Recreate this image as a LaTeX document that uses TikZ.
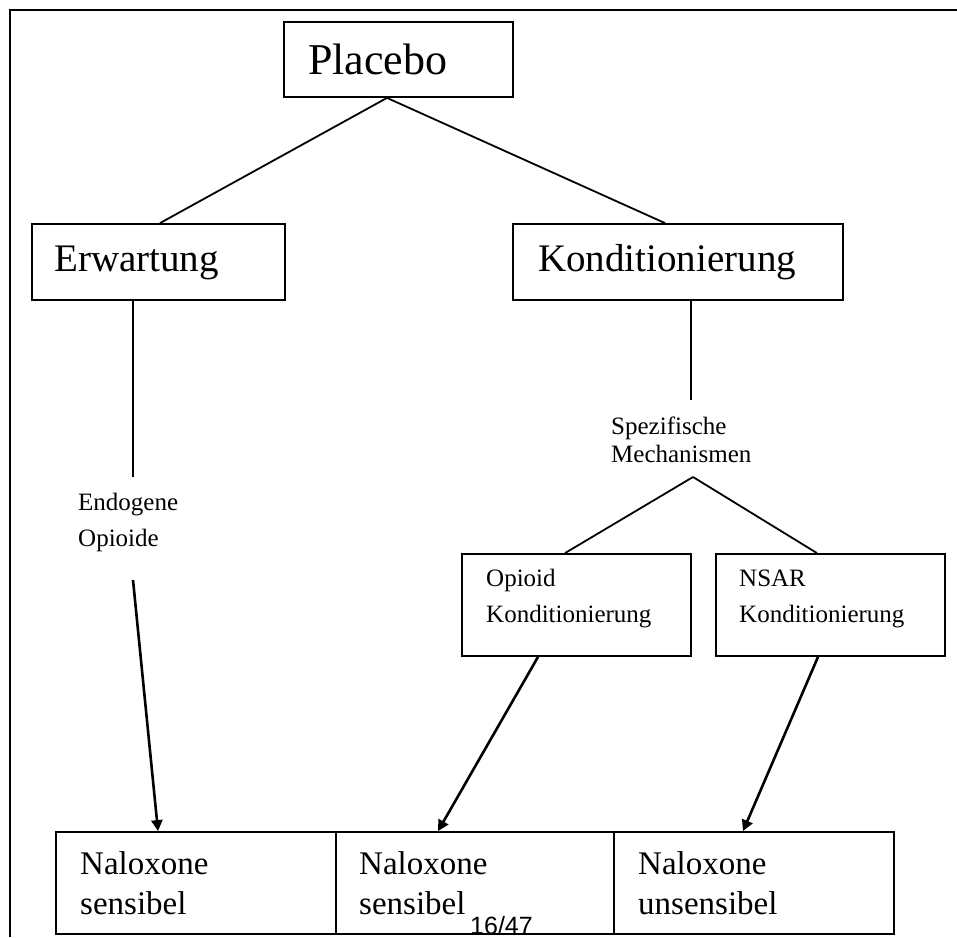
\documentclass[tikz,border=0pt]{standalone}
\usepackage{fontspec}
\setmainfont{Liberation Serif}
\newfontfamily\pagefont{Liberation Sans}
\usetikzlibrary{arrows.meta}
\begin{document}
\begin{tikzpicture}[x=1pt,y=-1pt,
  box/.style={draw,line width=1.8pt,rectangle,inner sep=0pt},
  txt/.style={anchor=base west,inner sep=0pt},
  big/.style={font=\fontsize{44}{50}\selectfont},
  mid/.style={font=\fontsize{39}{45}\selectfont},
  nal/.style={font=\fontsize{33}{38}\selectfont},
  small/.style={font=\fontsize{25}{29}\selectfont},
  conn/.style={line width=1.8pt},
  arr/.style={line width=2.6pt,-{Triangle[length=11pt,width=11pt]}}]
\useasboundingbox (0,0) rectangle (957,937);
\fill[white] (0,0) rectangle (957,937);
% outer frame (open at right and bottom)
\coordinate (fbl) at (10,937);
\coordinate (ftl) at (10,10);
\coordinate (ftr) at (957,10);
\draw[line width=2pt] (fbl) -- (ftl) -- (ftr);
% boxes
\node[box,minimum width=229pt,minimum height=75pt] (placebo) at (398.5,59.5) {};
\node[box,minimum width=253pt,minimum height=76pt] (erw) at (158.5,262) {};
\node[box,minimum width=330pt,minimum height=76pt] (kond) at (678,262) {};
\node[box,minimum width=229pt,minimum height=102pt] (opi) at (576.5,605) {};
\node[box,minimum width=229pt,minimum height=102pt] (nsar) at (830.5,605) {};
\node[box,minimum width=280pt,minimum height=102pt] (nal1) at (196,883) {};
\node[box,minimum width=278pt,minimum height=102pt] (nal2) at (475,883) {};
\node[box,minimum width=280pt,minimum height=102pt] (nal3) at (754,883) {};
% texts
\node[txt,big] (placebo-t) at (308,74) {Placebo};
\node[txt,mid] (erw-t) at (54,271) {Erwartung};
\node[txt,mid] (kond-t) at (538,271) {Konditionierung};
\node[txt,small] (endo-t1) at (78,510) {Endogene};
\node[txt,small] (endo-t2) at (78,546) {Opioide};
\node[txt,small] (spez-t1) at (611,434) {Spezifische};
\node[txt,small] (spez-t2) at (611,462) {Mechanismen};
\node[txt,small] (opi-t1) at (486,586) {Opioid};
\node[txt,small] (opi-t2) at (486,622) {Konditionierung};
\node[txt,small] (nsar-t1) at (739,586) {NSAR};
\node[txt,small] (nsar-t2) at (739,622) {Konditionierung};
\node[txt,nal] (nal1-t1) at (80,874) {Naloxone};
\node[txt,nal] (nal1-t2) at (80,914) {sensibel};
\node[txt,nal] (nal2-t1) at (359,874) {Naloxone};
\node[txt,nal] (nal2-t2) at (359,914) {sensibel};
\node[txt,nal] (nal3-t1) at (638,874) {Naloxone};
\node[txt,nal] (nal3-t2) at (638,914) {unsensibel};
\node[txt,font=\pagefont\fontsize{25}{29}\selectfont] (page) at (470,934.5) {16/47};
% free ends
\coordinate (erw-end) at (133,477);
\coordinate (endo-start) at (133,580);
\coordinate (kond-end) at (691,400);
\coordinate (spez-fork) at (693,477);
% connectors
\draw[conn] ([xshift=-11.5pt]placebo.south) -- ([xshift=1.5pt]erw.north);
\draw[conn] ([xshift=-11.5pt]placebo.south) -- ([xshift=-13pt]kond.north);
\draw[conn] (erw.south -| erw-end) -- (erw-end);
\draw[arr] (endo-start) -- ([xshift=-38pt]nal1.north);
\draw[conn] (kond.south -| kond-end) -- (kond-end);
\draw[conn] (spez-fork) -- ([xshift=-11.5pt]opi.north);
\draw[conn] (spez-fork) -- ([xshift=-13.5pt]nsar.north);
\draw[arr] ([xshift=-38.5pt]opi.south) -- ([xshift=-37pt]nal2.north);
\draw[arr] ([xshift=-12.5pt]nsar.south) -- ([xshift=-11pt]nal3.north);
\end{tikzpicture}
\end{document}
